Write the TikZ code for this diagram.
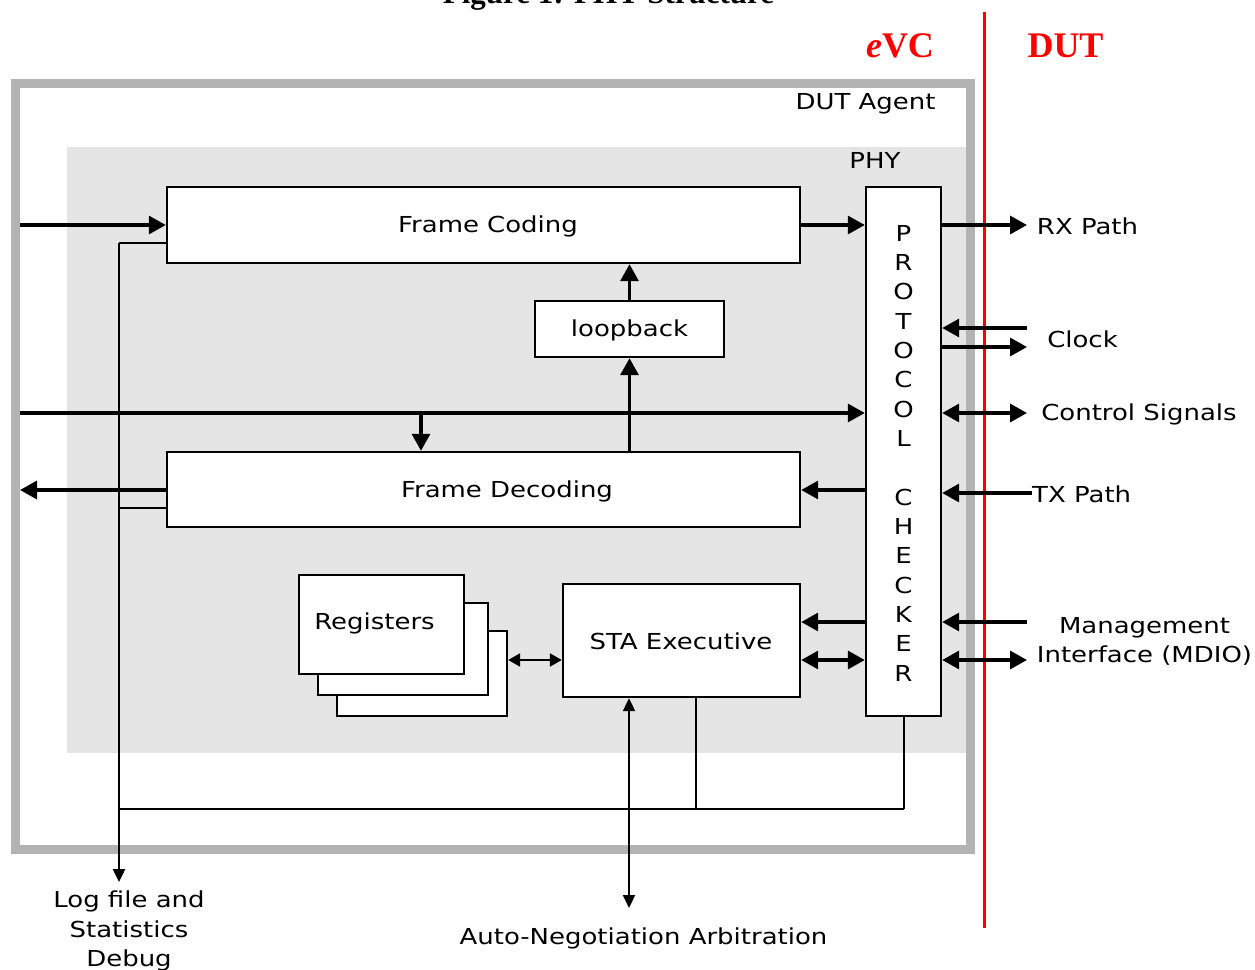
\documentclass[tikz,border=0pt]{standalone}
\usepackage{fontspec}
\setmainfont{DejaVu Sans}[FakeStretch=1.18]
\newfontfamily\serifbold{Liberation Serif}
\usetikzlibrary{arrows.meta,calc}

\definecolor{agentgray}{HTML}{B3B3B3}
\definecolor{phygray}{HTML}{E5E5E5}
\definecolor{evcred}{HTML}{FF0000}

\tikzset{
  lbl/.style={font=\fontsize{22}{29.5}\selectfont, inner sep=0pt, align=center, yshift=-2pt},
  blk/.style={draw, line width=2.4pt, fill=white, inner sep=0pt,
              font=\fontsize{22}{29.5}\selectfont},
  arr/.style={line width=3.3pt, -{Triangle[length=17pt,width=18pt]}},
  dblarr/.style={line width=3.3pt, {Triangle[length=17pt,width=18pt]}-{Triangle[length=17pt,width=18pt]}},
  smalldbl/.style={line width=2.4pt, {Triangle[length=12pt,width=13pt]}-{Triangle[length=12pt,width=13pt]}},
  thindbl/.style={line width=2.2pt, {Triangle[length=13pt,width=12pt]}-{Triangle[length=13pt,width=12pt]}},
  thinarr/.style={line width=2.4pt, -{Triangle[length=13pt,width=12pt]}},
  wire/.style={line width=2.4pt},
  hairwire/.style={line width=2pt},
  headline/.style={text=evcred, font=\serifbold\bfseries\fontsize{36}{40}\selectfont, inner sep=0pt, anchor=base},
}

\begin{document}
\begin{tikzpicture}[x=1pt,y=-1pt]
\useasboundingbox (0,0) rectangle (1255,969);

% caption above the figure
\node[anchor=base, inner sep=0pt, font=\serifbold\bfseries\fontsize{31}{34}\selectfont] (caption) at (608.5,3) {Figure 1: PHY Structure};

% eVC / DUT boundary
\draw[evcred, line width=3pt] (984,12) -- (984,928);
\node[headline] (evc) at (900,57.5) {\itshape e\upshape VC};
\node[headline] (dut) at (1065.5,57.5) {DUT};

% DUT agent frame and PHY area
\fill[phygray] (67,147) rectangle (966,753);
\draw[agentgray, line width=9pt] (15.5,83.5) rectangle (970.5,849);
\node[lbl] (agentlbl) at (865.5,101.5) {DUT Agent};
\node[lbl] (phylbl) at (875,158.5) {PHY};

% blocks
\node[blk, minimum width=633pt, minimum height=76pt] (fc) at (483.5,225) {};
\node[lbl] (fctext) at (488,224.5) {Frame Coding};
\node[blk, minimum width=189pt, minimum height=56pt] (lb) at (629.5,329) {};
\node[lbl] (lbtext) at (629.5,328.5) {loopback};
\node[blk, minimum width=633pt, minimum height=75pt] (fd) at (483.5,489.5) {};
\node[lbl] (fdtext) at (507,489.5) {Frame Decoding};
\node[blk, minimum width=75pt, minimum height=529pt] (pc) at (903.5,451.5) {};
\node[lbl, font=\fontsize{22}{29.33}\selectfont] (pctext) at (903.5,451)
  {P\\R\\O\\T\\O\\C\\O\\L\\[29.33pt]C\\H\\E\\C\\K\\E\\R};
\node[blk, minimum width=170pt, minimum height=85pt] (reg3) at (422,673.5) {};
\node[blk, minimum width=170pt, minimum height=92pt] (reg2) at (403,649) {};
\node[blk, minimum width=165pt, minimum height=99pt] (reg1) at (381.5,624.5) {};
\node[lbl] (regtext) at (374.5,621.5) {Registers};
\node[blk, minimum width=237pt, minimum height=113pt] (sta) at (681.5,640.5) {};
\node[lbl] (statext) at (681,639.5) {STA Executive};

% external labels
\node[lbl] (rx) at (1087.5,224.5) {RX Path};
\node[lbl] (clk) at (1082.5,337.5) {Clock};
\node[lbl] (ctlsig) at (1139,412.5) {Control Signals};
\node[lbl, anchor=west] (tx) at (1032,492.5) {TX Path};
\node[lbl] (mgmt) at (1144.5,639.5) {Management\\Interface (MDIO)};
\node[lbl] (logf) at (129,929) {Log file and\\Statistics\\Debug};
\node[lbl] (autoneg) at (643.5,936.5) {Auto-Negotiation Arbitration};

% free ends of connectors
\coordinate (inL) at (20,225);
\coordinate (rxend) at (1027,225);
\coordinate (clkin) at (1027,328);
\coordinate (clkout) at (1027,347);
\coordinate (ctl) at (1027,413);
\coordinate (txs) at (1032,493);
\coordinate (mgin) at (1027,622);
\coordinate (mgio) at (1027,660);
\coordinate (busL) at (20,413);
\coordinate (br) at (421,413);
\coordinate (outL) at (20,490);
\coordinate (lgtop) at (119,243);
\coordinate (lgfd) at (119,508);
\coordinate (lgbus) at (119,809);
\coordinate (lgend) at (119,882);
\coordinate (stab) at (696,809);
\coordinate (anend) at (629,908);

% receive path
\draw[arr] (inL) -- (fc.west);
\draw[arr] (fc.east) -- (pc.west |- fc.east);
\draw[arr] (pc.east |- fc.east) -- (rxend);

% clock, control, transmit and management signals
\draw[arr] (clkin) -- (pc.east |- clkin);
\draw[arr] (pc.east |- clkout) -- (clkout);
\draw[dblarr] (pc.east |- ctl) -- (ctl);
\draw[arr] (txs) -- (pc.east |- txs);
\draw[arr] (mgin) -- (pc.east |- mgin);
\draw[dblarr] (pc.east |- mgio) -- (mgio);

% inside the PHY
\draw[arr] (pc.west |- mgin) -- (sta.east |- mgin);
\draw[dblarr] (sta.east |- mgio) -- (pc.west |- mgio);
\draw[arr] (pc.west |- outL) -- (fd.east |- outL);
\draw[arr] (fd.west |- outL) -- (outL);
\draw[arr] (busL) -- (pc.west |- busL);
\draw[arr] (br) -- (br |- fd.north);
\draw[arr] (fd.north -| lb.south) -- (lb.south);
\draw[arr] (lb.north) -- (lb.north |- fc.south);
\draw[smalldbl] (reg3.east |- mgio) -- (sta.west |- mgio);

% logging bus
\draw[wire] (fc.west |- lgtop) -- (lgtop);
\draw[wire] (fd.west |- lgfd) -- (lgfd);
\draw[thinarr] (lgtop) -- (lgend);
\draw[wire] (lgbus) -- (pc.south |- lgbus);
\draw[hairwire] (pc.south) -- (pc.south |- lgbus);
\draw[hairwire] (stab |- sta.south) -- (stab);

% auto-negotiation
\draw[thindbl] (sta.south -| anend) -- (anend);
\end{tikzpicture}
\end{document}
